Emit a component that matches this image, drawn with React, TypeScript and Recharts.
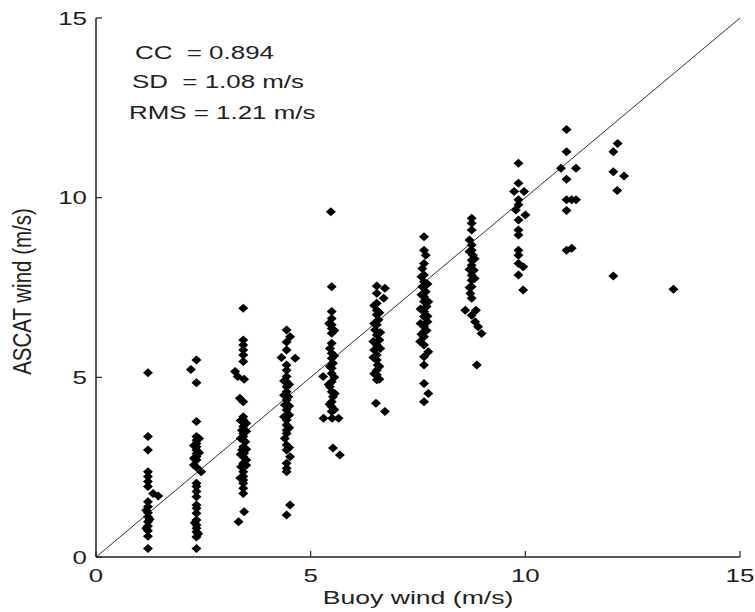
import React from 'react'
import {
  ScatterChart,
  Scatter,
  XAxis,
  YAxis,
  ReferenceLine,
} from 'recharts'

// buoy wind vs ASCAT wind, one array per buoy-wind bin, [buoy, ascat] in m/s
const bin1: [number, number][] = [
  [1.21, 5.13], [1.21, 3.35], [1.21, 2.98], [1.21, 2.37], [1.21, 2.24], [1.21, 2.1],
  [1.21, 1.96], [1.33, 1.77], [1.45, 1.7], [1.21, 1.54], [1.21, 1.4], [1.21, 1.23],
  [1.21, 1.12], [1.21, 0.98], [1.21, 0.86], [1.21, 0.73], [1.21, 0.58], [1.21, 0.24],
  [1.17, 1.3], [1.25, 1.05], [1.17, 0.8],
]
const bin2: [number, number][] = [
  [2.34, 5.48], [2.21, 5.22], [2.34, 4.85], [2.34, 3.77], [2.34, 3.35], [2.34, 3.25],
  [2.34, 3.16], [2.34, 3.07], [2.34, 2.98], [2.34, 2.88], [2.34, 2.79], [2.34, 2.7],
  [2.28, 2.56], [2.34, 2.5], [2.45, 2.37], [2.34, 2.05], [2.34, 1.96], [2.34, 1.82],
  [2.34, 1.68], [2.34, 1.45], [2.34, 1.36], [2.34, 1.22], [2.34, 1.03], [2.34, 0.89],
  [2.34, 0.8], [2.34, 0.7], [2.34, 0.56], [2.34, 0.24],
  [2.4, 3.3], [2.28, 3.1], [2.4, 2.9], [2.28, 2.75], [2.3, 0.95], [2.38, 0.65],
]
const bin3: [number, number][] = [
  [3.43, 6.92], [3.43, 6.04], [3.43, 5.9], [3.43, 5.76], [3.43, 5.62], [3.43, 5.44],
  [3.24, 5.16], [3.3, 5.02], [3.45, 4.95], [3.35, 4.42], [3.43, 4.32], [3.43, 3.9],
  [3.43, 3.81], [3.5, 3.72], [3.43, 3.63], [3.4, 3.53], [3.43, 3.44], [3.43, 3.35],
  [3.48, 3.21], [3.43, 3.07], [3.4, 2.98], [3.45, 2.89], [3.43, 2.79], [3.5, 2.7],
  [3.43, 2.61], [3.38, 2.51], [3.43, 2.37], [3.43, 2.24], [3.43, 2.14], [3.43, 2.05],
  [3.43, 1.91], [3.43, 1.77], [3.45, 1.26], [3.32, 0.98],
  [3.37, 3.8], [3.5, 3.5], [3.37, 3.3], [3.5, 3.0], [3.37, 2.85], [3.5, 2.55], [3.36, 2.2],
]
const bin4: [number, number][] = [
  [4.44, 6.32], [4.52, 6.13], [4.44, 5.98], [4.44, 5.76], [4.32, 5.55], [4.64, 5.53],
  [4.44, 5.34], [4.44, 5.2], [4.44, 5.02], [4.44, 4.88], [4.44, 4.74], [4.44, 4.6],
  [4.48, 4.46], [4.44, 4.37], [4.4, 4.23], [4.44, 4.09], [4.5, 3.95], [4.44, 3.81],
  [4.44, 3.67], [4.44, 3.53], [4.44, 3.44], [4.44, 3.12], [4.44, 2.98], [4.52, 2.79],
  [4.44, 2.61], [4.44, 2.47], [4.44, 2.37], [4.52, 1.45], [4.44, 1.17],
  [4.38, 4.9], [4.5, 4.8], [4.38, 4.5], [4.5, 4.2], [4.38, 3.9], [4.5, 3.6], [4.4, 3.3], [4.5, 3.05],
]
const bin5: [number, number][] = [
  [5.47, 9.61], [5.49, 7.52], [5.49, 6.83], [5.49, 6.64], [5.49, 6.46], [5.49, 6.36],
  [5.49, 6.23], [5.49, 5.95], [5.49, 5.67], [5.49, 5.53], [5.52, 5.39], [5.49, 5.25],
  [5.49, 5.11], [5.29, 5.02], [5.49, 4.88], [5.45, 4.74], [5.49, 4.6], [5.52, 4.46],
  [5.49, 4.32], [5.49, 4.18], [5.49, 4.05], [5.3, 3.86], [5.5, 3.86], [5.65, 3.86],
  [5.52, 3.03], [5.68, 2.84],
  [5.45, 5.8], [5.55, 5.6], [5.45, 5.3], [5.55, 5.0], [5.42, 4.8], [5.56, 4.55], [5.44, 4.25], [5.55, 4.1],
  [5.55, 6.3], [5.43, 6.5],
]
const bin6: [number, number][] = [
  [6.54, 7.54], [6.73, 7.48], [6.54, 7.34], [6.7, 7.2], [6.54, 7.06], [6.54, 6.87],
  [6.54, 6.74], [6.58, 6.6], [6.54, 6.46], [6.5, 6.32], [6.54, 6.18], [6.6, 6.04],
  [6.54, 5.9], [6.48, 5.76], [6.54, 5.62], [6.54, 5.48], [6.56, 5.34], [6.54, 5.2],
  [6.54, 5.07], [6.54, 4.93], [6.52, 4.28], [6.73, 4.05],
  [6.48, 7.0], [6.6, 6.8], [6.48, 6.5], [6.62, 6.25], [6.46, 6.0], [6.62, 5.8],
  [6.46, 5.55], [6.6, 5.3], [6.48, 5.1], [6.6, 4.95],
]
const bin7: [number, number][] = [
  [7.64, 8.91], [7.64, 8.54], [7.68, 8.4], [7.64, 8.17], [7.6, 8.03], [7.64, 7.85],
  [7.64, 7.66], [7.6, 7.52], [7.68, 7.38], [7.64, 7.24], [7.64, 7.11], [7.7, 6.97],
  [7.64, 6.83], [7.64, 6.69], [7.72, 6.55], [7.64, 6.41], [7.64, 6.27], [7.64, 6.13],
  [7.55, 6.0], [7.64, 5.9], [7.74, 5.71], [7.64, 5.57], [7.64, 5.34], [7.64, 4.83],
  [7.74, 4.55], [7.64, 4.32],
  [7.58, 7.8], [7.72, 7.6], [7.58, 7.3], [7.74, 7.1], [7.56, 6.9], [7.72, 6.7],
  [7.56, 6.5], [7.7, 6.3], [7.58, 6.2],
]
const bin8: [number, number][] = [
  [8.75, 9.43], [8.75, 9.29], [8.75, 9.1], [8.7, 8.82], [8.75, 8.68], [8.75, 8.54],
  [8.78, 8.4], [8.75, 8.26], [8.75, 8.12], [8.8, 7.98], [8.75, 7.84], [8.75, 7.7],
  [8.75, 7.52], [8.72, 7.33], [8.75, 7.2], [8.6, 6.87], [8.85, 6.87], [8.75, 6.73],
  [8.83, 6.55], [8.9, 6.41], [8.98, 6.22], [8.87, 5.34],
  [8.7, 8.5], [8.82, 8.3], [8.7, 8.0], [8.82, 7.75], [8.7, 7.5],
]
const bin9: [number, number][] = [
  [9.84, 10.96], [9.84, 10.4], [9.74, 10.17], [9.97, 10.17], [9.84, 9.94], [9.84, 9.8],
  [9.78, 9.66], [10.0, 9.52], [9.84, 9.38], [9.84, 9.1], [9.84, 8.96], [9.84, 8.54],
  [9.84, 8.4], [9.84, 8.17], [9.95, 8.08], [9.84, 7.85], [9.95, 7.43],
]
const bin10: [number, number][] = [
  [10.96, 11.9], [10.96, 11.28], [10.83, 10.82], [11.18, 10.82], [10.96, 10.51],
  [10.96, 9.94], [11.08, 9.94], [11.18, 9.94], [10.96, 9.64], [11.08, 8.59], [10.96, 8.54],
]
const bin11: [number, number][] = [
  [12.15, 11.51], [12.05, 11.28], [12.05, 10.72], [12.3, 10.6], [12.14, 10.2], [12.05, 7.82],
]
const bin12: [number, number][] = [[13.45, 7.45]]

const ticks = [0, 5, 10, 15]
const stats = ['CC  = 0.894', 'SD  = 1.08 m/s', 'RMS = 1.21 m/s']

const data = [bin1, bin2, bin3, bin4, bin5, bin6, bin7, bin8, bin9, bin10, bin11, bin12]
  .flat()
  .map(([buoy, ascat]) => ({ buoy, ascat }))

const FONT = '"Liberation Sans", Arial, sans-serif'
const INK = '#222'
const SX = 1.4 // the original figure is stretched sideways

function Diamond(props: any) {
  const { cx, cy } = props
  if (cx == null || cy == null) return null
  return <polygon points={`${cx - 5},${cy} ${cx},${cy - 4.5} ${cx + 5},${cy} ${cx},${cy + 4.5}`} fill="#000" />
}

function BottomTick({ x, y, payload }: any) {
  return (
    <g>
      <line x1={x} y1={y} x2={x} y2={y - 6} stroke={INK} strokeWidth={1.2} />
      <text transform={`translate(${x},${y + 24.6}) scale(${SX},1)`} textAnchor="middle" fontSize={18.5} fontFamily={FONT} fill={INK}>
        {payload.value}
      </text>
    </g>
  )
}

function LeftTick({ x, y, payload }: any) {
  return (
    <g>
      <line x1={x} y1={y} x2={x + 6} y2={y} stroke={INK} strokeWidth={1.2} />
      <text transform={`translate(${x - 9},${y + 6.6}) scale(${SX},1)`} textAnchor="end" fontSize={18.5} fontFamily={FONT} fill={INK}>
        {payload.value}
      </text>
    </g>
  )
}

function TopTick({ x, y }: any) {
  return <line x1={x} y1={y} x2={x} y2={y + 6} stroke={INK} strokeWidth={1.2} />
}

function RightTick({ x, y }: any) {
  return <line x1={x} y1={y} x2={x - 6} y2={y} stroke={INK} strokeWidth={1.2} />
}

export default function App() {
  const axisLine = { stroke: INK, strokeWidth: 1.5 }
  return (
    <div style={{ position: 'absolute', left: 0, top: 0, width: 755, height: 612, background: '#fff' }}>
      <ScatterChart width={755} height={612} margin={{ top: 18, right: 15, bottom: 15, left: 36 }}>
        <XAxis
          type="number"
          dataKey="buoy"
          domain={[0, 15]}
          ticks={ticks}
          allowDataOverflow
          height={40}
          tickSize={0}
          tickMargin={0}
          axisLine={axisLine}
          tick={<BottomTick />}
          label={(p: any) => {
            const vb = p.viewBox
            return (
              <text transform={`translate(${vb.x + vb.width / 2},${604}) scale(${SX},1)`} textAnchor="middle" fontSize={19} fontFamily={FONT} fill={INK}>
                Buoy wind (m/s)
              </text>
            )
          }}
        />
        <XAxis xAxisId="top" orientation="top" type="number" domain={[0, 15]} ticks={ticks} height={0}
          tickSize={0} tickMargin={0} axisLine={axisLine} tick={<TopTick />} />
        <YAxis
          type="number"
          dataKey="ascat"
          domain={[0, 15]}
          ticks={ticks}
          allowDataOverflow
          width={60}
          tickSize={0}
          tickMargin={0}
          axisLine={axisLine}
          tick={<LeftTick />}
          label={(p: any) => {
            const vb = p.viewBox
            return (
              <text transform={`translate(31,${vb.y + vb.height / 2 + 4}) rotate(-90) scale(1,1.3)`} textAnchor="middle" fontSize={20.5} fontFamily={FONT} fill={INK}>
                ASCAT wind (m/s)
              </text>
            )
          }}
        />
        <YAxis yAxisId="right" orientation="right" type="number" domain={[0, 15]} ticks={ticks} width={0}
          tickSize={0} tickMargin={0} axisLine={axisLine} tick={<RightTick />} />
        <ReferenceLine segment={[{ x: 0, y: 0 }, { x: 15, y: 15 }]} stroke="#333" strokeWidth={1} />
        <Scatter data={data} shape={<Diamond />} isAnimationActive={false} />
      </ScatterChart>
      {stats.map((s, i) => (
        <div
          key={s}
          style={{
            position: 'absolute',
            left: [135, 132, 129][i],
            top: [44, 73, 104][i],
            fontFamily: FONT,
            fontSize: 18.5,
            lineHeight: 1,
            color: INK,
            whiteSpace: 'pre',
            transform: `scaleX(${SX})`,
            transformOrigin: 'left top',
          }}
        >
          {s}
        </div>
      ))}
    </div>
  )
}
